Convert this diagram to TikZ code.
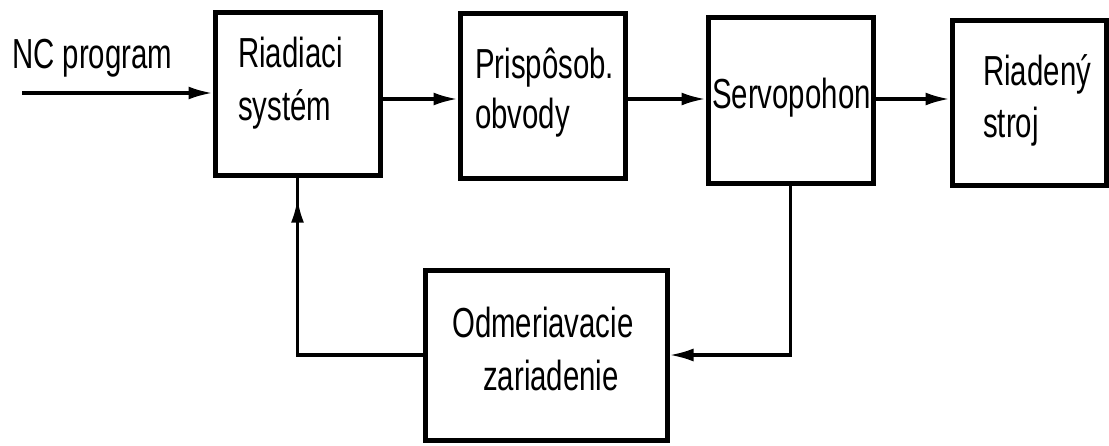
\documentclass[tikz,border=0pt]{standalone}
\usepackage{fontspec}
\setmainfont[FakeStretch=0.70]{Liberation Sans}
\usetikzlibrary{arrows.meta,decorations.markings}
\begin{document}
\begin{tikzpicture}[x=1pt,y=-1pt,
  box/.style={draw, line width=5pt, inner sep=0pt},
  conn/.style={line width=3.2pt, -{Latex[length=24pt,width=13pt]}},
  plain/.style={line width=3.2pt},
  lbl/.style={anchor=base west, inner sep=0pt, font=\fontsize{42}{50}\selectfont}]
\useasboundingbox (0,0) rectangle (1109,445);
% boxes
\node[box, minimum width=165pt, minimum height=163pt] (b1) at (297.5,93.5) {};
\node[box, minimum width=165pt, minimum height=165pt] (b2) at (542.5,95.5) {};
\node[box, minimum width=165pt, minimum height=166pt] (b3) at (790.5,100) {};
\node[box, minimum width=154pt, minimum height=165pt] (b4) at (1029,102.5) {};
\node[box, minimum width=242pt, minimum height=170pt] (b5) at (546,355) {};
% labels
\node[lbl] (nc) at (12,68) {NC program};
\node[lbl] (t1a) at (238,67) {Riadiaci};
\node[lbl] (t1b) at (238,120) {systém};
\node[lbl] (t2a) at (475,78) {Prispôsob.};
\node[lbl] (t2b) at (475,128) {obvody};
\node[lbl] (t3) at (712,108) {Servopohon};
\node[lbl] (t4a) at (983,85) {Riadený};
\node[lbl] (t4b) at (983,137) {stroj};
\node[lbl] (t5a) at (452,337) {Odmeriavacie};
\node[lbl] (t5b) at (483,390) {zariadenie};
% connectors
\coordinate (ncin) at (22,93);
\coordinate (row) at (0,99);
\draw[conn] (ncin) -- (b1.west |- ncin);
\draw[conn] (b1.east |- row) -- (b2.west |- row);
\draw[conn] (b2.east |- row) -- (b3.west |- row);
\draw[conn] (b3.east |- row) -- (b4.west |- row);
\draw[conn] (b3.south) |- (b5.east);
\draw[plain, postaction={decorate}, decoration={markings,
  mark=at position 0.93 with {\arrow{Latex[length=24pt,width=13pt]}}}]
  (b5.west) -| (b1.south);
\end{tikzpicture}
\end{document}
